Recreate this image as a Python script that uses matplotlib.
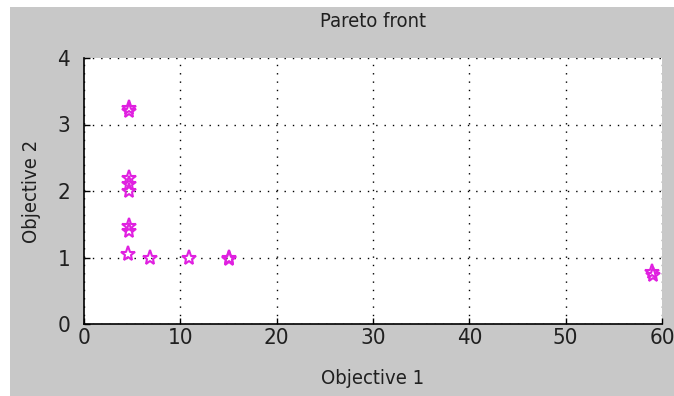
import matplotlib
matplotlib.use('Agg')
import matplotlib.pyplot as plt
from matplotlib.patches import Rectangle

obj1 = [4.7, 4.7, 4.7, 4.7, 4.7, 4.7, 4.7, 4.6, 6.8, 10.9, 15.0, 15.1, 59.0, 59.1]
obj2 = [3.25, 3.2, 2.2, 2.1, 2.0, 1.47, 1.4, 1.06, 0.99, 1.0, 0.99, 0.97, 0.78, 0.73]
xticks = [0, 10, 20, 30, 40, 50, 60]
yticks = [0, 1, 2, 3, 4]

plt.rcParams['font.family'] = ['DejaVu Sans']
plt.rcParams['font.stretch'] = 'condensed'

fig = plt.figure(figsize=(6.74, 3.96), dpi=100, facecolor='white')
# gray figure area with thin white strip at top/left like the screenshot
fig.patches.append(Rectangle((10/674, 0), 1, 1 - 7/396, transform=fig.transFigure,
                             facecolor='#c8c8c8', edgecolor='none', zorder=-1))
ax = fig.add_axes([84/674, 1 - 324/396, (662-84)/674, (324-58)/396])
ax.set_facecolor('white')

ax.plot(obj1, obj2, linestyle='none', marker='*', markersize=11,
        markerfacecolor='none', markeredgecolor='#e020e0', markeredgewidth=1.5, zorder=3)

ax.set_xlim(0, 60)
ax.set_ylim(0, 4)
ax.set_xticks(xticks)
ax.set_yticks(yticks)
ax.grid(True, color='black', linestyle=(0, (1, 5)), linewidth=1.0)
for s in ['top', 'right']:
    ax.spines[s].set_visible(False)
ax.spines['left'].set_linewidth(1.2)
ax.spines['bottom'].set_linewidth(1.2)
ax.tick_params(axis='y', direction='in', length=4, width=1, labelsize=16, pad=10,
               labelcolor='#202020')
ax.tick_params(axis='x', direction='in', length=4, width=1, labelsize=16, pad=3,
               labelcolor='#202020')
ax.set_title('Pareto front', fontsize=14.5, pad=22, color='#202020')
ax.set_xlabel('Objective 1', fontsize=14.5, labelpad=15, color='#202020')
ax.set_ylabel('Objective 2', fontsize=14.5, labelpad=12, color='#202020')

fig.savefig('out.png', dpi=100, facecolor=fig.get_facecolor())
